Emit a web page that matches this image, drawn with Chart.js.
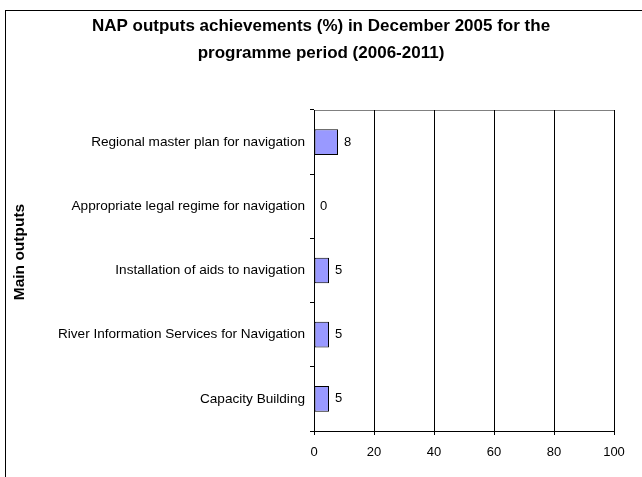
<!DOCTYPE html>
<html>
<head>
<meta charset="utf-8">
<script src="https://cdn.jsdelivr.net/npm/chart.js@4/dist/chart.umd.min.js"></script>
<style>
  html, body { margin: 0; padding: 0; background: #ffffff; }
  #wrap { width: 642px; height: 477px; position: relative; }
</style>
</head>
<body>
<div id="wrap"><canvas id="outputsChart"></canvas></div>
<script>
const outputs = [
  "Regional master plan for navigation",
  "Appropriate legal regime for navigation",
  "Installation of aids to navigation",
  "River Information Services for Navigation",
  "Capacity Building"
];
const achieved = [8, 0, 5, 5, 5];
const xTicks = [0, 20, 40, 60, 80, 100];
const titleLines = [
  "NAP outputs achievements (%) in December 2005 for the",
  "programme period (2006-2011)"
];
const yTitle = "Main outputs";

const fontFamily = "'Liberation Sans', Arial, sans-serif";

const chartFrame = {
  id: "chartFrame",
  beforeDraw(chart) {
    const { ctx, chartArea } = chart;
    ctx.save();
    ctx.fillStyle = "#ffffff";
    ctx.fillRect(0, 0, chart.width, chart.height);
    ctx.strokeStyle = "#000000";
    ctx.lineWidth = 1;
    ctx.strokeRect(5.5, 10.5, chart.width + 10, chart.height + 10);
    // plot area outline
    ctx.strokeStyle = "#808080";
    ctx.strokeRect(
      Math.round(chartArea.left) + 0.5,
      Math.round(chartArea.top) + 0.5,
      Math.round(chartArea.right - chartArea.left),
      Math.round(chartArea.bottom - chartArea.top)
    );
    ctx.restore();
  },
  afterDraw(chart) {
    const { ctx } = chart;
    ctx.save();
    ctx.fillStyle = "#000000";
    ctx.textAlign = "center";
    ctx.textBaseline = "middle";
    ctx.font = "bold 17px " + fontFamily;
    ctx.fillText(titleLines[0], 321, 26);
    ctx.fillText(titleLines[1], 321, 53);
    ctx.translate(20, 252);
    ctx.rotate(-Math.PI / 2);
    ctx.font = "bold 15.5px " + fontFamily;
    ctx.fillText(yTitle, 0, 0);
    ctx.restore();
  }
};

const barValues = {
  id: "barValues",
  afterDatasetsDraw(chart) {
    const { ctx } = chart;
    const meta = chart.getDatasetMeta(0);
    ctx.save();
    ctx.fillStyle = "#000000";
    ctx.font = "13px " + fontFamily;
    ctx.textAlign = "left";
    ctx.textBaseline = "middle";
    meta.data.forEach((bar, i) => {
      ctx.fillText(String(achieved[i]), bar.x + 6, bar.y);
    });
    ctx.restore();
  }
};

new Chart(document.getElementById("outputsChart"), {
  type: "bar",
  data: {
    labels: outputs,
    datasets: [
      {
        data: achieved,
        backgroundColor: "#9999ff",
        borderColor: "#000000",
        borderWidth: 1,
        borderSkipped: false,
        barPercentage: 0.4,
        categoryPercentage: 1
      }
    ]
  },
  options: {
    indexAxis: "y",
    responsive: true,
    maintainAspectRatio: false,
    animation: false,
    layout: {
      padding: { top: 110, right: 28, bottom: 0, left: 0 }
    },
    plugins: {
      legend: { display: false },
      tooltip: { enabled: false }
    },
    scales: {
      x: {
        min: 0,
        max: 100,
        afterFit(scale) { scale.height = 46; },
        afterBuildTicks(scale) { scale.ticks = xTicks.map((v) => ({ value: v })); },
        ticks: {
          color: "#000000",
          font: { family: fontFamily, size: 13 },
          padding: 10,
          maxRotation: 0
        },
        grid: {
          color: "#000000",
          lineWidth: 1,
          tickLength: 4,
          tickColor: "#000000"
        },
        border: { color: "#000000", width: 1 }
      },
      y: {
        afterFit(scale) { scale.width = 314; },
        ticks: {
          color: "#000000",
          font: { family: fontFamily, size: 13.6 },
          padding: 5
        },
        grid: {
          drawOnChartArea: false,
          tickLength: 4,
          tickColor: "#000000"
        },
        border: { color: "#000000", width: 1 }
      }
    }
  },
  plugins: [chartFrame, barValues]
});
</script>
</body>
</html>
